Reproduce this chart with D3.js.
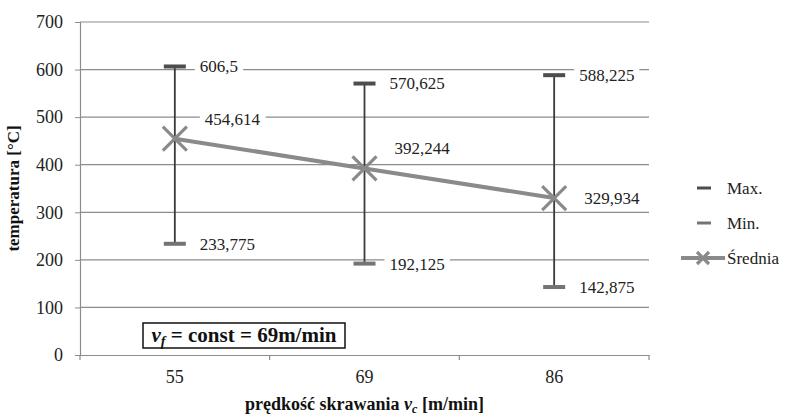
<!DOCTYPE html>
<html lang="en">
<head>
  <meta charset="UTF-8">
  <title>temperatura vs prędkość skrawania</title>
  <style>
    body {
      margin: 0;
      background-color: #fff;
    }

    svg {
      display: block;
    }

    svg text {
      font-family: "Liberation Serif", "Times New Roman", "DejaVu Serif", serif !important;
    }
  </style>
</head>
<body>
<div class="chart"></div>
</body>
<script src="https://d3js.org/d3.v7.min.js"></script>
<script>
  // dane z wykresu
  let categories = ['55', '69', '86']
  let maxVals = [606.5, 570.625, 588.225]
  let minVals = [233.775, 192.125, 142.875]
  let meanVals = [454.614, 392.244, 329.934]
  let yTicks = [0, 100, 200, 300, 400, 500, 600, 700]
  let legendNames = ['Max.', 'Min.', 'Średnia']

  let width = 789
  let height = 418
  let margin = {top: 22, right: 140, bottom: 63, left: 80}

  let svg = d3.select('.chart').append('svg')
    .attr('width', width)
    .attr('height', height)

  let x = d3.scaleBand()
    .domain(categories)
    .range([margin.left, width - margin.right])

  let y = d3.scaleLinear()
    .domain([0, 700])
    .range([height - margin.bottom, margin.top])

  let fmt = (v) => String(v).replace('.', ',')
  let cx = (i) => x(categories[i]) + x.bandwidth() / 2

  // siatka
  svg.append('g')
    .selectAll('line')
    .data(yTicks.filter(d => d > 0))
    .enter()
    .append('line')
    .attr('x1', margin.left)
    .attr('x2', width - margin.right)
    .attr('y1', d => y(d))
    .attr('y2', d => y(d))
    .attr('stroke', '#8c8c8c')
    .attr('stroke-width', 1.2)

  // os Y
  let yAxis = svg.append('g')
    .attr('transform', 'translate(' + margin.left + ',0)')
    .call(d3.axisLeft(y).tickValues(yTicks).tickSize(5).tickPadding(12))
  yAxis.select('.domain').attr('stroke', '#8c8c8c').attr('stroke-width', 1.2)
  yAxis.selectAll('.tick line').attr('stroke', '#8c8c8c')
  yAxis.selectAll('.tick text')
    .attr('font-size', '18px')
    .attr('fill', '#222')

  // os X
  let xAxis = svg.append('g')
    .attr('transform', 'translate(0,' + y(0) + ')')
    .call(d3.axisBottom(x).tickSize(0).tickPadding(15))
  xAxis.select('.domain').attr('stroke', '#8c8c8c').attr('stroke-width', 1.2)
  xAxis.selectAll('.tick text')
    .attr('font-size', '18px')
    .attr('fill', '#222')

  // podzialki miedzy kategoriami
  let bounds = categories.map(c => x(c)).concat([x(categories[categories.length - 1]) + x.bandwidth()])
  svg.append('g')
    .selectAll('line')
    .data(bounds)
    .enter()
    .append('line')
    .attr('x1', d => d)
    .attr('x2', d => d)
    .attr('y1', y(0))
    .attr('y2', y(0) + 5)
    .attr('stroke', '#8c8c8c')
    .attr('stroke-width', 1.2)

  // linie min-max
  svg.append('g')
    .selectAll('line')
    .data(categories)
    .enter()
    .append('line')
    .attr('x1', (d, i) => cx(i))
    .attr('x2', (d, i) => cx(i))
    .attr('y1', (d, i) => y(maxVals[i]))
    .attr('y2', (d, i) => y(minVals[i]))
    .attr('stroke', '#3a3a3a')
    .attr('stroke-width', 1.8)

  // znaczniki max i min
  svg.append('g')
    .selectAll('rect')
    .data(maxVals)
    .enter()
    .append('rect')
    .attr('x', (d, i) => cx(i) - 11)
    .attr('y', d => y(d) - 2)
    .attr('width', 22)
    .attr('height', 4)
    .attr('fill', '#4d4d4d')

  svg.append('g')
    .selectAll('rect')
    .data(minVals)
    .enter()
    .append('rect')
    .attr('x', (d, i) => cx(i) - 11)
    .attr('y', d => y(d) - 2)
    .attr('width', 22)
    .attr('height', 4)
    .attr('fill', '#747474')

  // linia sredniej
  let line = d3.line()
    .x((d, i) => cx(i))
    .y(d => y(d))

  svg.append('path')
    .datum(meanVals)
    .attr('d', line)
    .attr('fill', 'none')
    .attr('stroke', '#8a8a8a')
    .attr('stroke-width', 4)

  let cross = (g, px, py, r) => {
    g.append('path')
      .attr('d', 'M' + (px - r) + ',' + (py - r) + 'L' + (px + r) + ',' + (py + r) +
        'M' + (px - r) + ',' + (py + r) + 'L' + (px + r) + ',' + (py - r))
      .attr('stroke', '#8a8a8a')
      .attr('stroke-width', 3.2)
      .attr('fill', 'none')
  }

  let marks = svg.append('g')
  meanVals.forEach((d, i) => cross(marks, cx(i), y(d), 12))

  // etykiety danych z bialym tlem
  let labels = svg.append('g')
  let addLabel = (txt, lx, ly) => {
    let bg = labels.append('rect').attr('fill', '#fff')
    let t = labels.append('text')
      .attr('x', lx)
      .attr('y', ly)
      .attr('dy', '0.35em')
      .attr('font-size', '17px')
      .attr('fill', '#222')
      .text(txt)
    let b = t.node().getBBox()
    bg.attr('x', b.x - 5).attr('y', b.y - 2).attr('width', b.width + 10).attr('height', b.height + 4)
  }

  maxVals.forEach((d, i) => addLabel(fmt(d), cx(i) + 25, y(d)))
  minVals.forEach((d, i) => addLabel(fmt(d), cx(i) + 25, y(d)))
  meanVals.forEach((d, i) => addLabel(fmt(d), cx(i) + 30, y(d) - (i < 2 ? 20 : 0)))

  // ramka z opisem
  let boxG = svg.append('g')
  boxG.append('rect')
    .attr('x', 143)
    .attr('y', 323)
    .attr('width', 202)
    .attr('height', 25)
    .attr('fill', '#fff')
    .attr('stroke', '#111')
    .attr('stroke-width', 1.5)
  let bt = boxG.append('text')
    .attr('x', 244)
    .attr('y', 342)
    .attr('text-anchor', 'middle')
    .attr('font-size', '21px')
    .attr('font-weight', 'bold')
    .attr('fill', '#111')
  bt.append('tspan').attr('font-style', 'italic').text('v')
  bt.append('tspan').attr('font-style', 'italic').attr('font-size', '14px').attr('dy', 4).text('f')
  bt.append('tspan').attr('dy', -4).text(' = const = 69m/min')

  // legenda
  let legend = svg.append('g').attr('transform', 'translate(680,0)')
  let legY = [188, 223, 258]
  legend.append('rect')
    .attr('x', 17).attr('y', legY[0] - 1.5).attr('width', 14).attr('height', 3).attr('fill', '#4d4d4d')
  legend.append('rect')
    .attr('x', 17).attr('y', legY[1] - 1.5).attr('width', 14).attr('height', 3).attr('fill', '#747474')
  legend.append('line')
    .attr('x1', 1).attr('x2', 45).attr('y1', legY[2]).attr('y2', legY[2])
    .attr('stroke', '#8a8a8a').attr('stroke-width', 4)
  cross(legend, 23, legY[2], 6)
  legend.selectAll('text')
    .data(legendNames)
    .enter()
    .append('text')
    .attr('x', 47)
    .attr('y', (d, i) => legY[i])
    .attr('dy', '0.35em')
    .attr('font-size', '17px')
    .attr('fill', '#222')
    .text(d => d)

  // tytuly osi
  svg.append('text')
    .attr('transform', 'translate(19,' + ((margin.top + height - margin.bottom) / 2) + ') rotate(-90)')
    .attr('text-anchor', 'middle')
    .attr('font-size', '17px')
    .attr('font-weight', 'bold')
    .attr('fill', '#111')
    .text('temperatura [°C]')

  let xt = svg.append('text')
    .attr('x', (margin.left + width - margin.right) / 2)
    .attr('y', 410)
    .attr('text-anchor', 'middle')
    .attr('font-size', '18px')
    .attr('font-weight', 'bold')
    .attr('fill', '#111')
  xt.append('tspan').text('prędkość skrawania ')
  xt.append('tspan').attr('font-style', 'italic').text('v')
  xt.append('tspan').attr('font-style', 'italic').attr('font-size', '12px').attr('dy', 3).text('c')
  xt.append('tspan').attr('dy', -3).text(' [m/min]')
</script>
</html>
